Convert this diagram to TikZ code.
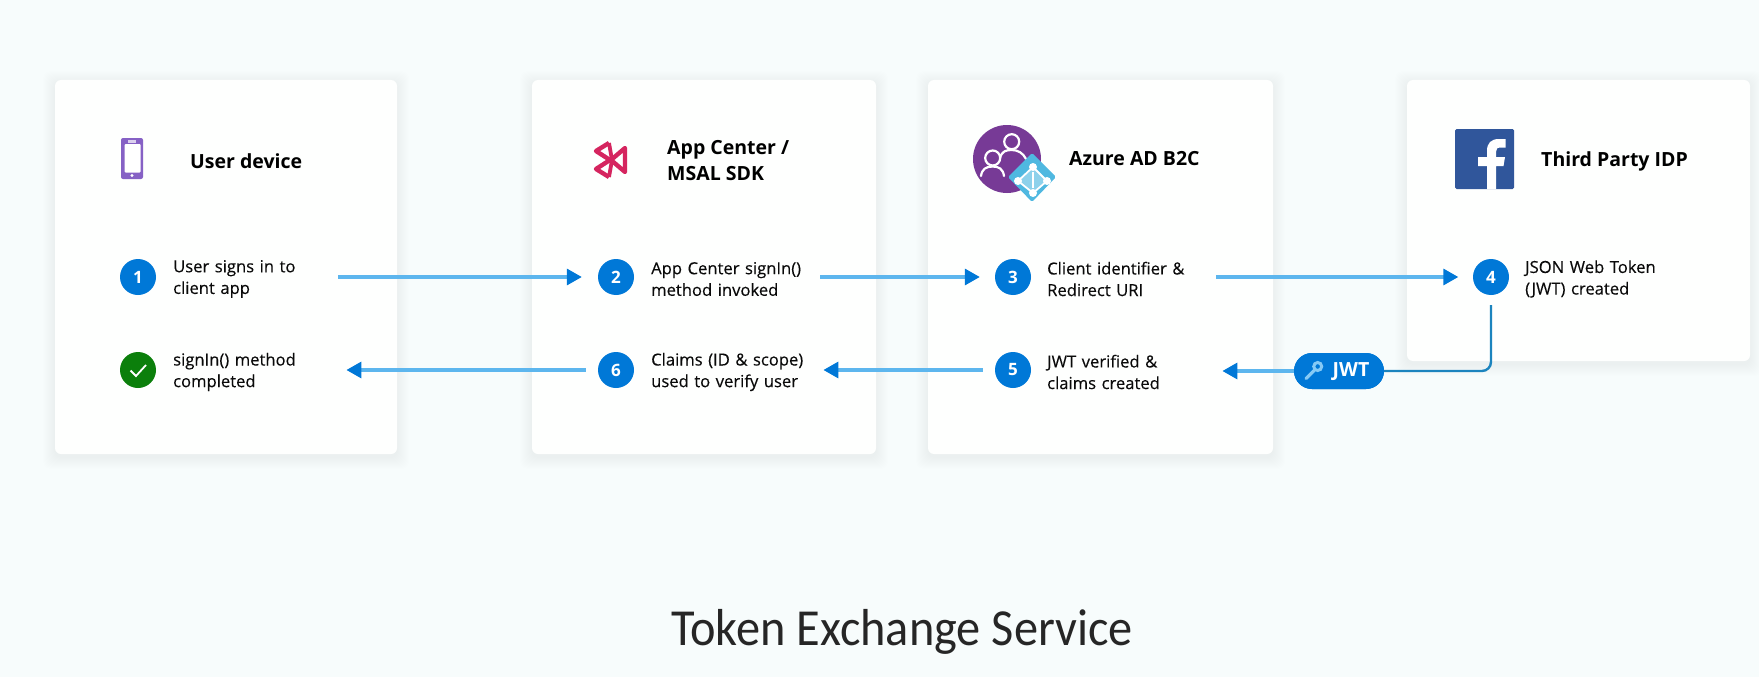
\documentclass[tikz,border=0pt]{standalone}
\usepackage{fontspec}
\setmainfont{Open Sans}
\newfontfamily\titlefont[FakeStretch=0.93]{Carlito}
\usetikzlibrary{arrows.meta,shapes.geometric}
\definecolor{bgc}{HTML}{F7FCFC}
\definecolor{cardc}{HTML}{FEFFFE}
\definecolor{bluec}{HTML}{0078D7}
\definecolor{linec}{HTML}{5DB6EE}
\definecolor{tealc}{HTML}{1C84BE}
\definecolor{greenc}{HTML}{0B7F0B}
\definecolor{phonec}{HTML}{8661C5}
\definecolor{crimc}{HTML}{D5255F}
\definecolor{purpc}{HTML}{773A96}
\definecolor{diac}{HTML}{4FB8E0}
\definecolor{fbc}{HTML}{30569B}
\definecolor{keyc}{HTML}{86CAF5}
\definecolor{inkc}{HTML}{0A0A0A}
\newcommand{\cardbox}[5]{%
  \foreach \g in {12,11,...,1}{
    \fill[black!40!bgc,opacity=0.004,rounded corners=8] (#2-\g,#3-\g+3) rectangle (#4+\g,#5+\g+3);
  }
  \node[cardbox,minimum width=#4-#2,minimum height=#5-#3] (#1) at ({(#2+#4)/2},{(#3+#5)/2}) {};
}
\tikzset{
  x=1pt,y=-1pt,
  cardbox/.style={fill=cardc,rounded corners=6,inner sep=0,draw=none},
  numdot/.style={circle,fill=bluec,minimum size=36,inner sep=0,text=white,font=\fontsize{17}{17}\selectfont\bfseries},
  okdot/.style={numdot,fill=greenc},
  steptext/.style={anchor=west,inner sep=0,align=left,text=inkc,font=\fontsize{16.6}{21.6}\selectfont\addfontfeature{FakeBold=0.25}},
  headtext/.style={anchor=west,inner sep=0,align=left,text=black,font=\fontsize{19.5}{26}\selectfont\bfseries},
  flow/.style={draw=linec,line width=3.2,-{Triangle[length=15,width=16,fill=bluec,color=bluec]}},
  pillbox/.style={rounded corners=18,fill=bluec,minimum width=90,minimum height=36,inner sep=0},
}
\begin{document}
\begin{tikzpicture}
\useasboundingbox (0,0) rectangle (1759,677);
\fill[bgc] (0,0) rectangle (1759,677);
\cardbox{card1}{55}{80}{397}{454}
\cardbox{card2}{532}{80}{876}{454}
\cardbox{card3}{928}{80}{1273}{454}
\cardbox{card4}{1407}{80}{1750}{361}

% phone icon
\fill[phonec,rounded corners=2] (121,138) rectangle (143,179);
\fill[white,rounded corners=1] (124.5,144) rectangle (140.5,172.5);
\fill[white!70!phonec] (128,139.5) rectangle (136,142.5);
\fill[white] (132,175.5) circle (1.6);
% app center icon
\draw[crimc,line width=4.4,line join=round] (609,143) -- (596,151) -- (610,160) -- (596,169) -- (609,177);
\draw[crimc,line width=4.4,line join=round] (625,148) -- (625,172) -- (611,160) -- cycle;
\draw[crimc,line width=3.8,line join=round] (609,143) -- (612,160) -- (609,177);
% azure icon
\fill[purpc] (1007,159) circle (34);
\begin{scope}[draw=white,line width=2.2,line cap=round]
\draw (1011.7,141.7) circle (7.5);
\draw (1000,158) .. controls (1002,151) and (1006,150) .. (1011.7,150) .. controls (1018,150) and (1023,153) .. (1026,159);
\draw (992.7,158) circle (7.5);
\draw (981,176) .. controls (982,169) and (986,166.5) .. (992.7,166.5) .. controls (999,166.5) and (1003,169) .. (1004,176);
\end{scope}
\fill[diac,rounded corners=1.5] (1032,153) -- (1056,177) -- (1032,202) -- (1008,177) -- cycle;
\fill[white!35!diac] (1033,167) -- (1047,181) -- (1033,193) -- (1018,181) -- cycle;
\draw[white,line width=1.8] (1033,167) -- (1047,181) -- (1033,193) -- (1018,181) -- cycle;
\draw[white,line width=1.4] (1033,172) -- (1033,188);
\foreach \p in {(1033,167),(1047,181),(1033,193),(1018,181)} \fill[white] \p circle (4);
% facebook icon
\fill[fbc,rounded corners=1.5] (1455,129) rectangle (1514,189);
\fill[white] (1487,189) -- (1487,166) -- (1478,166) -- (1478,157) -- (1487,157) -- (1487,151)
  .. controls (1487,143) and (1491,139) .. (1499,139) -- (1505.5,139) -- (1505.5,147.5) -- (1501,147.5)
  .. controls (1497,147.5) and (1496,149) .. (1496,152) -- (1496,157) -- (1505,157) -- (1503.5,166) -- (1496,166) -- (1496,189) -- cycle;

% headings
\node[headtext] (h1) at (190,161) {User device};
\node[headtext] (h2) at (667,161) {App Center /\\MSAL SDK};
\node[headtext] (h3) at (1069,159) {Azure AD B2C};
\node[headtext] (h4) at (1541,161) {Third Party IDP};

% step dots
\node[numdot] (c1) at (138,277) {1};
\node[numdot] (c2) at (616,277) {2};
\node[numdot] (c3) at (1013,277) {3};
\node[numdot] (c4) at (1491,277) {4};
\node[numdot] (c5) at (1013,370) {5};
\node[numdot] (c6) at (616,370) {6};
\node[okdot] (c7) at (138,370) {};
\draw[white,line width=1.8] (130.5,370.5) -- (136,376) -- (146,365);

% step texts
\node[steptext,text width=165] (t1) at (173,279) {User signs in to\\client app};
\node[steptext,text width=169] (t2) at (651,279) {App Center signIn()\\method invoked};
\node[steptext,text width=169] (t3) at (1047,279) {Client identifier \&\\Redirect URI};
\node[steptext,text width=200] (t4) at (1525,279) {JSON Web Token\\(JWT) created};
\node[steptext,text width=175] (t5) at (1047,372) {JWT verified \&\\claims created};
\node[steptext,text width=172] (t6) at (651,372) {Claims (ID \& scope)\\used to verify user};
\node[steptext,text width=173] (t7) at (173,372) {signIn() method\\completed};

% flows
\coordinate (f1) at (t1.east |- c1.east);
\coordinate (f2) at (t2.east |- c2.east);
\coordinate (f3) at (t3.east |- c3.east);
\coordinate (f5) at (t5.east |- c5.east);
\coordinate (f6) at (t6.east |- c6.east);
\coordinate (f7) at (t7.east |- c7.east);
\draw[flow,shorten >=16] (f1) -- (c2.west);
\draw[flow,shorten >=15] (f2) -- (c3.west);
\draw[flow,shorten >=14.5] (f3) -- (c4.west);
\node[pillbox] (jwt) at (1339,371) {};
\draw[tealc,line width=2.4,rounded corners=9,shorten <=10] (c4.south) |- (jwt.east);
\draw[flow] (jwt.west) -- (f5 |- jwt.west);
\draw[flow,shorten <=12] (c5.west) -- (f6);
\draw[flow,shorten <=12] (c6.west) -- (f7);
% pill content (over the line)
\node[pillbox] (jwtb) at (1339,371) {};
\draw[keyc,line width=3] (1317.7,366.5) circle (4);
\draw[keyc,line width=3.2,line cap=round] (1314.5,370) -- (1306,378.5);
\node[inner sep=0,text=white,font=\fontsize{19.5}{20}\selectfont\bfseries] (jwtl) at (1351,371.5) {JWT};

\node[anchor=base,inner sep=0,text=black!85,font=\titlefont\fontsize{52}{52}\selectfont] (title) at (902,645) {Token Exchange Service};
\end{tikzpicture}
\end{document}
